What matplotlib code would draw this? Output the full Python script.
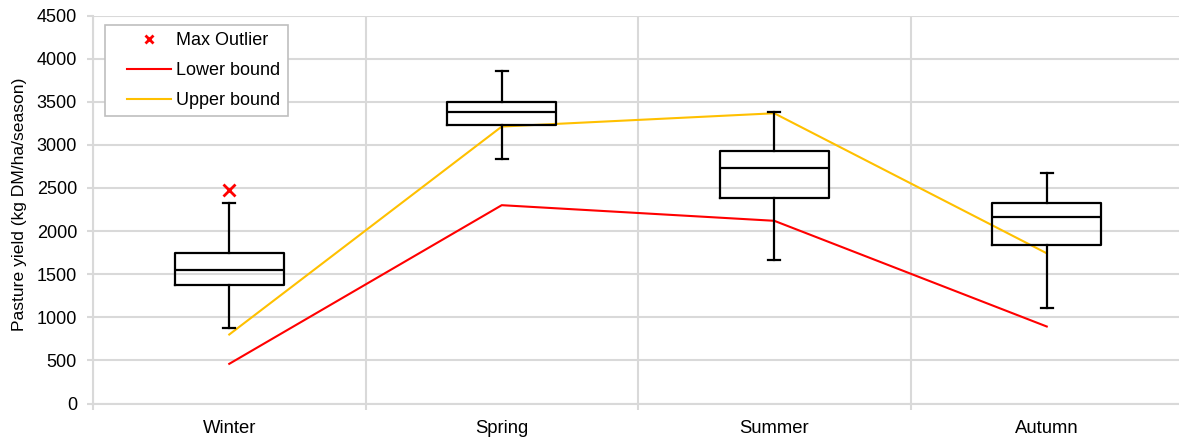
import matplotlib.pyplot as plt
from matplotlib.ticker import MultipleLocator, FixedLocator
from matplotlib.lines import Line2D
from matplotlib.legend_handler import HandlerLine2D

plt.rcParams['font.family'] = ['Liberation Sans', 'DejaVu Sans']

seasons = ['Winter', 'Spring', 'Summer', 'Autumn']
whisker_low = [875, 2830, 1665, 1110]
q1 = [1372, 3227, 2378, 1843]
median = [1546, 3386, 2735, 2160]
q3 = [1740, 3502, 2933, 2320]
whisker_high = [2320, 3862, 3386, 2669]
max_outlier = [2475, None, None, None]
lower_bound = [460, 2300, 2119, 893]
upper_bound = [800, 3212, 3366, 1742]

stats = []
for i, s in enumerate(seasons):
    stats.append({
        'label': s, 'whislo': whisker_low[i], 'q1': q1[i], 'med': median[i],
        'q3': q3[i], 'whishi': whisker_high[i], 'fliers': [],
    })

fig = plt.figure(figsize=(11.79, 4.38), dpi=100)
ax = fig.add_axes([93 / 1179, (438 - 403.5) / 438, 1090 / 1179, 388 / 438])

pos = list(range(len(seasons)))
ax.bxp(stats, positions=pos, widths=0.4, capwidths=0.045, showfliers=False,
       boxprops=dict(color='black', linewidth=1.6),
       medianprops=dict(color='black', linewidth=1.6),
       whiskerprops=dict(color='black', linewidth=1.6),
       capprops=dict(color='black', linewidth=1.6), zorder=3)

ox = [p for p, v in zip(pos, max_outlier) if v is not None]
oy = [v for v in max_outlier if v is not None]
ax.plot(ox, oy, linestyle='none', marker='x', color='#ff0000', markersize=8,
        markeredgewidth=2.0, zorder=4)
ax.plot(pos, lower_bound, color='#ff0000', linewidth=1.5, zorder=2)
ax.plot(pos, upper_bound, color='#ffc000', linewidth=1.5, zorder=2)

ax.set_xlim(-0.5, 3.5)
ax.set_ylim(0, 4500)
ax.yaxis.set_major_locator(MultipleLocator(500))
ax.set_xticks(pos)
ax.set_xticklabels(seasons)
ax.xaxis.set_minor_locator(FixedLocator([-0.5, 0.5, 1.5, 2.5, 3.5]))

ax.grid(axis='y', which='major', color='#d9d9d9', linewidth=1.5, zorder=0)
ax.grid(axis='x', which='minor', color='#d9d9d9', linewidth=1.5, zorder=0)
ax.set_axisbelow(True)

for side in ['top', 'right']:
    ax.spines[side].set_visible(False)
for side in ['left', 'bottom']:
    ax.spines[side].set_color('#d9d9d9')
    ax.spines[side].set_linewidth(1.5)

ax.tick_params(axis='x', which='major', length=0, pad=12, labelsize=13.3)
ax.tick_params(axis='x', which='minor', length=4, color='#d9d9d9', width=1.5)
ax.tick_params(axis='y', length=4.5, color='#d9d9d9', width=1.5, pad=7, labelsize=13)

ax.set_ylabel('Pasture yield (kg DM/ha/season)', fontsize=12.6)
ax.yaxis.set_label_coords(-0.0608, 0.514)

handles = [
    Line2D([], [], linestyle='none', marker='x', color='#ff0000', markersize=6, markeredgewidth=2),
    Line2D([], [], color='#ff0000', linewidth=1.5),
    Line2D([], [], color='#ffc000', linewidth=1.5),
]
leg = ax.legend(handles, ['Max Outlier', 'Lower bound', 'Upper bound'], loc='upper left',
                bbox_to_anchor=(0.011, 0.9755), borderaxespad=0, fontsize=13,
                fancybox=False, framealpha=1, edgecolor='#bfbfbf', borderpad=0.4,
                labelspacing=0.72, handlelength=3.28, handletextpad=0.28,
                handler_map={Line2D: HandlerLine2D(xpad=0.8)})
leg.get_frame().set_linewidth(1.2)

fig.savefig('out.png', dpi=100)
